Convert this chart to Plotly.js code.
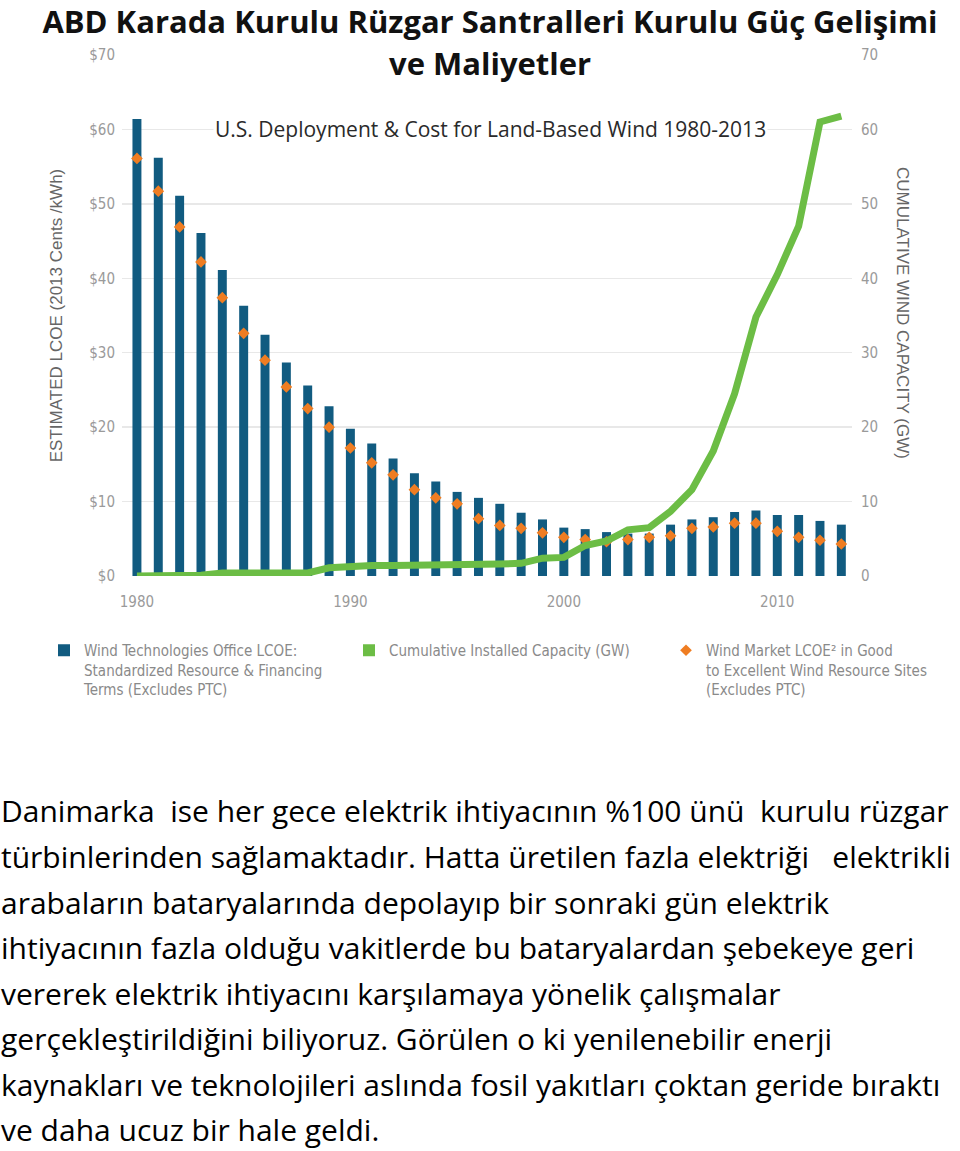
<!DOCTYPE html>
<html>
<head>
<meta charset="utf-8">
<script src="https://cdn.plot.ly/plotly-3.0.1.min.js"></script>
<style>
html,body{margin:0;padding:0;background:#fff;}
#chart{width:960px;height:1151px;}
</style>
</head>
<body>
<div id="chart"></div>
<script>
// ---- data ----
const years = [1980,1981,1982,1983,1984,1985,1986,1987,1988,1989,1990,1991,1992,1993,1994,1995,1996,1997,1998,1999,2000,2001,2002,2003,2004,2005,2006,2007,2008,2009,2010,2011,2012,2013];
const officeLCOE = [61.4,56.2,51.1,46.1,41.1,36.3,32.4,28.7,25.6,22.8,19.8,17.8,15.8,13.8,12.7,11.3,10.5,9.7,8.5,7.6,6.5,6.3,5.9,5.7,5.7,6.9,7.6,7.9,8.6,8.8,8.2,8.2,7.4,6.9];
const marketLCOE = [56.1,51.7,46.9,42.2,37.4,32.6,29.0,25.4,22.5,20.0,17.2,15.2,13.6,11.6,10.5,9.7,7.7,6.8,6.4,5.8,5.2,4.9,4.6,4.9,5.2,5.4,6.4,6.6,7.1,7.1,6.0,5.2,4.8,4.3];
const capacityGW = [0,0,0,0.1,0.4,0.4,0.4,0.4,0.4,1.1,1.3,1.4,1.4,1.4,1.5,1.6,1.6,1.6,1.7,2.4,2.5,4.1,4.7,6.2,6.5,8.7,11.6,16.8,24.5,34.8,40.5,47.0,61.0,61.8];
const xTickVals = [1980,1990,2000,2010];
const yTickVals = [0,10,20,30,40,50,60,70];
const leftTickText = ["$0","$10","$20","$30","$40","$50","$60","$70"];
const rightTickText = ["0","10","20","30","40","50","60","70"];
const seriesNames = [
  "Wind Technologies Office LCOE:<br>Standardized Resource &amp; Financing<br>Terms (Excludes PTC)",
  "Cumulative Installed Capacity (GW)",
  "Wind Market LCOE² in Good<br>to Excellent Wind Resource Sites<br>(Excludes PTC)"
];
const mainTitle1 = "ABD Karada Kurulu Rüzgar Santralleri Kurulu Güç Gelişimi";
const mainTitle2 = "ve Maliyetler";
const subTitle = "U.S. Deployment &amp; Cost for Land-Based Wind 1980-2013";
const leftAxisTitle = "ESTIMATED LCOE (2013 Cents /kWh)";
const rightAxisTitle = "CUMULATIVE WIND CAPACITY (GW)";
const paragraph = [
  "Danimarka\u00A0 ise her gece elektrik ihtiyacının %100 ünü\u00A0 kurulu rüzgar",
  "türbinlerinden sağlamaktadır. Hatta üretilen fazla elektriği\u00A0\u00A0 elektrikli",
  "arabaların bataryalarında depolayıp bir sonraki gün elektrik",
  "ihtiyacının fazla olduğu vakitlerde bu bataryalardan şebekeye geri",
  "vererek elektrik ihtiyacını karşılamaya yönelik çalışmalar",
  "gerçekleştirildiğini biliyoruz. Görülen o ki yenilenebilir enerji",
  "kaynakları ve teknolojileri aslında fosil yakıtları çoktan geride bıraktı",
  "ve daha ucuz bir hale geldi."
];

// ---- layout helpers (pixel -> paper) ----
const W = 960, H = 1151;
const L = 122, R = 852, T = 55, B = 576;
const px = x => (x - L) / (R - L);
const py = y => (B - y) / (B - T);

const narrow = "Liberation Sans Narrow, DejaVu Sans Condensed, Arial Narrow, sans-serif";
const BAR = "#115b80", GREEN = "#6cbd45", ORANGE = "#ef7d22";

const traces = [
  {type:"bar", x:years, y:officeLCOE, name:seriesNames[0], marker:{color:BAR}, width:0.42, yaxis:"y", legend:"legend"},
  {type:"scatter", mode:"lines", x:years, y:capacityGW, name:seriesNames[1], yaxis:"y2",
   line:{color:GREEN, width:7}, showlegend:false, legendgroup:"cap", legend:"legend2"},
  {type:"bar", x:[null], y:[null], name:seriesNames[1], marker:{color:GREEN}, legendgroup:"cap", hoverinfo:"skip", legend:"legend2"},
  {type:"scatter", mode:"markers", x:years, y:marketLCOE, name:seriesNames[2], yaxis:"y", legend:"legend3",
   marker:{symbol:"diamond", size:9, color:ORANGE}}
];

const annotations = [
  {text:"<b>"+mainTitle2+"</b>", x:px(490), y:py(63), xref:"paper", yref:"paper", xanchor:"center", yanchor:"middle",
   showarrow:false, font:{family:"Open Sans, sans-serif", size:31, color:"#111"}, bgcolor:"#fff", borderpad:0},
  {text:subTitle, x:px(490), y:py(129), xref:"paper", yref:"paper", xanchor:"center", yanchor:"middle",
   showarrow:false, font:{family:"Open Sans, sans-serif", size:21, color:"#2a2a2a"}, bgcolor:"#fff", borderpad:1},
  {text:rightAxisTitle, x:px(903), y:py(313), xref:"paper", yref:"paper", xanchor:"center", yanchor:"middle",
   showarrow:false, textangle:90, font:{family:"Liberation Sans, Arial, sans-serif", size:17, color:"#666"}}
];
paragraph.forEach((line,i)=>{
  annotations.push({text:line, x:px(0), y:py(811 + i*45.5), xref:"paper", yref:"paper", xanchor:"left", yanchor:"middle",
    borderpad:0, showarrow:false, font:{family:"Open Sans, sans-serif", size:30, color:"#000"}});
});

const legendBase = {orientation:"h", xanchor:"left", yanchor:"top", valign:"top", y:py(634),
  font:{family:narrow, size:15, color:"#8a8a8a"}, bgcolor:"rgba(0,0,0,0)"};

const layout = {
  width:W, height:H,
  margin:{l:L, r:W-R, t:T, b:H-B, pad:0},
  paper_bgcolor:"#fff", plot_bgcolor:"#fff",
  title:{text:"<b>"+mainTitle1+"</b>", x:px(490), xref:"paper", xanchor:"center", y:1-22/H, yref:"container", yanchor:"middle",
    font:{family:"Open Sans, sans-serif", size:31, color:"#111"}},
  showlegend:true,
  legend:Object.assign({}, legendBase, {x:px(44)}),
  legend2:Object.assign({}, legendBase, {x:px(349)}),
  legend3:Object.assign({}, legendBase, {x:px(666)}),
  xaxis:{range:[1979.3,2013.5], tickmode:"array", tickvals:xTickVals, ticktext:xTickVals.map(String), showgrid:false, zeroline:false,
    showline:false, ticks:"", ticklabelstandoff:15, tickfont:{family:narrow, size:15, color:"#9a9a9a"}},
  yaxis:{range:[0,70], tickmode:"array", tickvals:yTickVals, ticktext:leftTickText, showgrid:true, gridcolor:"#e8e8e8", gridwidth:1.5,
    zeroline:false, showline:false, ticks:"", ticklabelstandoff:6,
    tickfont:{family:narrow, size:15, color:"#9a9a9a"},
    title:{text:leftAxisTitle, standoff:22, font:{family:"Liberation Sans, Arial, sans-serif", size:17, color:"#666"}}},
  yaxis2:{range:[0,70], tickmode:"array", tickvals:yTickVals, ticktext:rightTickText, overlaying:"y", side:"right", showgrid:false, zeroline:false,
    showline:false, ticks:"", ticklabelstandoff:8, tickfont:{family:narrow, size:15, color:"#9a9a9a"}},
  bargap:0.5,
  annotations:annotations
};

Plotly.newPlot("chart", traces, layout, {displayModeBar:false, staticPlot:true});
</script>
</body>
</html>
